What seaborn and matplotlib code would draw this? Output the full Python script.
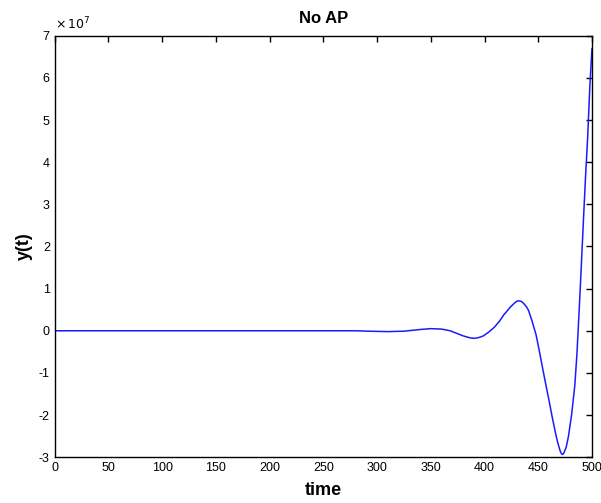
import numpy as np
import pandas as pd
import matplotlib
matplotlib.use("Agg")
import matplotlib.pyplot as plt
import seaborn as sns
from matplotlib.ticker import FuncFormatter, MultipleLocator

# values (y in units of 1e7)
time = [0, 100, 200, 280, 292, 310, 325, 340, 350, 360, 368, 375, 380, 384,
        387, 390, 393, 396, 399, 404, 409, 414, 418, 424, 428, 430, 432, 434,
        436, 439, 441, 444, 448, 451, 454, 457, 460, 463, 466, 468, 470, 471,
        472, 473, 474, 476, 478, 481, 484, 486, 488, 490, 492, 494, 496, 498,
        500]
y_scaled = [0, 0, 0, 0, -0.01, -0.02, -0.01, 0.03, 0.05, 0.04, 0.0, -0.07,
            -0.12, -0.15, -0.17, -0.18, -0.17, -0.15, -0.12, -0.03, 0.08, 0.23,
            0.38, 0.56, 0.66, 0.70, 0.71, 0.70, 0.66, 0.57, 0.48, 0.25, -0.1,
            -0.48, -0.88, -1.27, -1.65, -2.05, -2.42, -2.64, -2.82, -2.89,
            -2.93, -2.93, -2.89, -2.76, -2.52, -2.0, -1.3, -0.55, 0.45, 1.5,
            2.6, 3.65, 4.6, 5.8, 6.7]

df = pd.DataFrame({"time": time, "y": np.array(y_scaled) * 1e7})

sns.set_style("white")
plt.rcParams["font.family"] = ["Liberation Sans", "DejaVu Sans"]
plt.rcParams["axes.unicode_minus"] = False
plt.rcParams["text.color"] = "black"
plt.rcParams["axes.labelcolor"] = "black"

fig = plt.figure(figsize=(6.01, 5.03), dpi=100)
ax = fig.add_axes([0.091, 0.091, 0.894, 0.838])
sns.lineplot(data=df, x="time", y="y", ax=ax, color="#1a1aff", linewidth=1.1)

ax.set_xlim(0, 500)
ax.set_ylim(-3e7, 7e7)
ax.xaxis.set_major_locator(MultipleLocator(50))
ax.yaxis.set_major_locator(MultipleLocator(1e7))
ax.yaxis.set_major_formatter(FuncFormatter(lambda v, _: f"{v / 1e7:g}"))
ax.text(0.0, 1.008, r"$\times\,10^{7}$", transform=ax.transAxes,
        fontsize=9, ha="left", va="bottom")

ax.tick_params(direction="in", top=True, right=True, length=4, width=1,
               labelsize=9, colors="black")
for s in ax.spines.values():
    s.set_color("black")
    s.set_linewidth(1)

ax.set_title("No AP", fontsize=12, fontweight="bold", pad=9, color="black")
ax.set_xlabel("time", fontsize=13, fontweight="bold", labelpad=6)
ax.set_ylabel("y(t)", fontsize=13, fontweight="bold", labelpad=4)

fig.savefig("out.png", dpi=100, facecolor="white")
